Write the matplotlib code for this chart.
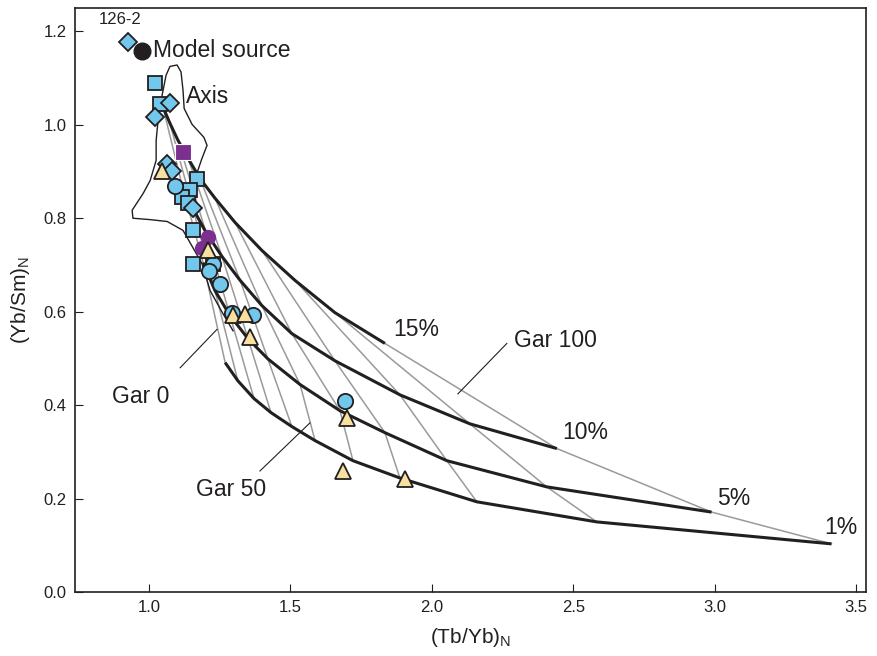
import matplotlib
matplotlib.use('Agg')
import matplotlib.pyplot as plt

plt.rcParams['font.family'] = ['Liberation Sans', 'DejaVu Sans']

# Melting curves (15, 10, 5, 1 %), nodes at Gar 0, 10, ..., 100
melt_labels = ['15%', '10%', '5%', '1%']
tbyb_15 = [1.049, 1.074, 1.102, 1.138, 1.180, 1.233, 1.304, 1.399, 1.516, 1.657, 1.834]
ybsm_15 = [1.038, 1.003, 0.967, 0.928, 0.885, 0.843, 0.791, 0.731, 0.667, 0.598, 0.532]
tbyb_10 = [1.117, 1.155, 1.201, 1.258, 1.322, 1.399, 1.505, 1.657, 1.887, 2.134, 2.442]
ybsm_10 = [0.870, 0.821, 0.770, 0.718, 0.667, 0.613, 0.553, 0.495, 0.422, 0.360, 0.307]
tbyb_5 = [1.191, 1.233, 1.286, 1.350, 1.420, 1.534, 1.675, 1.834, 2.053, 2.406, 2.989]
ybsm_5 = [0.705, 0.645, 0.592, 0.542, 0.499, 0.444, 0.388, 0.341, 0.281, 0.225, 0.171]
tbyb_1 = [1.269, 1.314, 1.371, 1.431, 1.505, 1.587, 1.721, 1.887, 2.159, 2.583, 3.413]
ybsm_1 = [0.491, 0.452, 0.414, 0.384, 0.354, 0.324, 0.281, 0.244, 0.193, 0.150, 0.103]

# "Axis" field outline
axis_x = [1.170, 1.187, 1.205, 1.194, 1.152, 1.124, 1.120, 1.113, 1.099, 1.074, 1.060, 1.046,
          1.032, 1.025, 1.025, 1.004, 0.979, 0.940, 0.943, 1.004, 1.064, 1.120, 1.155, 1.187,
          1.216, 1.261, 1.297]
axis_y = [0.898, 0.928, 0.956, 0.973, 1.001, 1.035, 1.074, 1.113, 1.128, 1.125, 1.106, 1.063,
          1.010, 0.967, 0.924, 0.881, 0.853, 0.817, 0.800, 0.797, 0.793, 0.774, 0.737, 0.703,
          0.645, 0.596, 0.559]

# Samples
sq_x = [1.021, 1.039, 1.170, 1.145, 1.117, 1.138, 1.155, 1.155, 1.226]
sq_y = [1.089, 1.044, 0.883, 0.860, 0.845, 0.832, 0.774, 0.703, 0.703]
dm_x = [0.926, 1.074, 1.021, 1.064, 1.081, 1.155]
dm_y = [1.177, 1.046, 1.016, 0.917, 0.902, 0.821]
ci_x = [1.092, 1.226, 1.212, 1.251, 1.293, 1.367, 1.693]
ci_y = [0.870, 0.701, 0.686, 0.660, 0.598, 0.592, 0.409]
tr_x = [1.046, 1.208, 1.297, 1.339, 1.357, 1.700, 1.686, 1.905]
tr_y = [0.902, 0.731, 0.592, 0.596, 0.545, 0.373, 0.259, 0.242]
pu_sq_x, pu_sq_y = [1.120], [0.941]
pu_ci_x = [1.208, 1.187]
pu_ci_y = [0.759, 0.737]
src_x, src_y = [0.975], [1.158]

# Gar labels: text position and leader-line ends
gar_text = ['Gar 0', 'Gar 50', 'Gar 100']
gar_text_x = [0.972, 1.290, 2.438]
gar_text_y = [0.418, 0.219, 0.538]
gar_lead_x = [(1.110, 1.240), (1.392, 1.569), (2.265, 2.092)]
gar_lead_y = [(0.480, 0.562), (0.259, 0.362), (0.532, 0.424)]

blue = '#72C7EC'
tan = '#F7E0A0'
purple = '#7B2F8E'
ink = '#231F20'
gray = '#9A9A9A'

fig = plt.figure(figsize=(8.78, 6.56), dpi=100)
ax = fig.add_axes([0.0854, 0.0976, 0.9009, 0.8902])

curves = [(tbyb_15, ybsm_15), (tbyb_10, ybsm_10), (tbyb_5, ybsm_5), (tbyb_1, ybsm_1)]

# Gar lines (gray) connecting equal garnet nodes
for i in range(len(tbyb_15)):
    ax.plot([c[0][i] for c in curves], [c[1][i] for c in curves], color=gray, lw=1.1, zorder=1)

# Melt curves (black)
for cx, cy in curves:
    ax.plot(cx, cy, color=ink, lw=2.2, zorder=2, solid_capstyle='butt')

ax.plot(axis_x, axis_y, color=ink, lw=1.0, zorder=1)

ms = 10
ax.plot(sq_x, sq_y, 's', ms=ms, mfc=blue, mec=ink, mew=1.3, zorder=4, ls='none')
ax.plot(dm_x, dm_y, 'D', ms=ms - 1, mfc=blue, mec=ink, mew=1.3, zorder=4, ls='none')
ax.plot(ci_x, ci_y, 'o', ms=ms + 1, mfc=blue, mec=ink, mew=1.3, zorder=4, ls='none')
ax.plot(tr_x, tr_y, '^', ms=ms + 2, mfc=tan, mec=ink, mew=1.3, zorder=5, ls='none')
ax.plot(pu_sq_x, pu_sq_y, 's', ms=ms + 1, mfc=purple, mec='white', mew=0.8, zorder=5, ls='none')
ax.plot(pu_ci_x, pu_ci_y, 'o', ms=ms + 1, mfc=purple, mec='none', zorder=3, ls='none')
ax.plot(src_x, src_y, 'o', ms=ms + 2, mfc=ink, mec=ink, zorder=5, ls='none')

# Labels
fs = 16.5
ax.text(0.975 + 0.04, 1.158, 'Model source', fontsize=fs, va='center', ha='left', color=ink)
ax.text(0.926 - 0.03, 1.21, '126-2', fontsize=12, va='bottom', ha='center', color=ink)
ax.text(1.13, 1.06, 'Axis', fontsize=fs, va='center', ha='left', color=ink)
ax.text(tbyb_15[-1] + 0.03, ybsm_15[-1] + 0.005, '15%', fontsize=fs, va='bottom', ha='left', color=ink)
ax.text(tbyb_10[-1] + 0.02, ybsm_10[-1] + 0.01, '10%', fontsize=fs, va='bottom', ha='left', color=ink)
ax.text(tbyb_5[-1] + 0.02, ybsm_5[-1] + 0.005, '5%', fontsize=fs, va='bottom', ha='left', color=ink)
ax.text(tbyb_1[-1] - 0.025, ybsm_1[-1] + 0.01, '1%', fontsize=fs, va='bottom', ha='left', color=ink)

for t, tx, ty, lx, ly in zip(gar_text, gar_text_x, gar_text_y, gar_lead_x, gar_lead_y):
    ax.text(tx, ty, t, fontsize=fs, ha='center', va='center', color=ink)
    ax.plot(lx, ly, color=ink, lw=0.8, zorder=3)

ax.set_xlim(0.738, 3.535)
ax.set_ylim(0, 1.25)
ax.set_xticks([1.0, 1.5, 2.0, 2.5, 3.0, 3.5])
ax.set_yticks([0.0, 0.2, 0.4, 0.6, 0.8, 1.0, 1.2])
ax.xaxis.set_major_formatter(matplotlib.ticker.FormatStrFormatter('%.1f'))
ax.yaxis.set_major_formatter(matplotlib.ticker.FormatStrFormatter('%.1f'))
ax.tick_params(direction='in', length=6, width=0.8, labelsize=12, colors=ink, pad=6)
for s in ax.spines.values():
    s.set_color(ink)
    s.set_linewidth(1.2)

ax.set_xlabel('(Tb/Yb)$_\\mathregular{N}$', fontsize=15, color=ink, labelpad=8)
ax.set_ylabel('(Yb/Sm)$_\\mathregular{N}$', fontsize=15, color=ink, labelpad=8)

fig.savefig('out.png', dpi=100)
